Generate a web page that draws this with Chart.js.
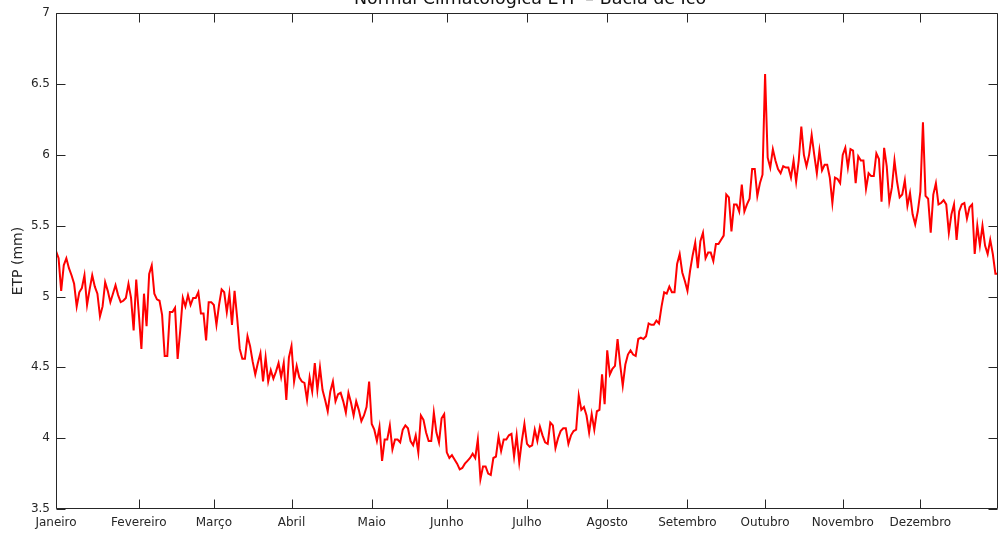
<!DOCTYPE html>
<html>
<head>
<meta charset="utf-8">
<title>Normal Climatológica ETP - Bacia de Icó</title>
<script src="https://cdn.jsdelivr.net/npm/chart.js@4.4.1/dist/chart.umd.min.js"></script>
<style>
    html, body { margin: 0; padding: 0; background: #ffffff; }
    canvas { display: block; }
</style>
</head>
<body>
<canvas id="etpChart" width="999" height="533"></canvas>
<script>
// Chart data
const chartTitle = 'Normal Climatológica ETP – Bacia de Icó';
const yAxisTitle = 'ETP (mm)';
const monthNames = ['Janeiro', 'Fevereiro', 'Março', 'Abril', 'Maio', 'Junho',
                    'Julho', 'Agosto', 'Setembro', 'Outubro', 'Novembro', 'Dezembro'];
const monthTickDays = [1, 33, 62, 92, 123, 152, 183, 214, 245, 275, 305, 335];
const yTickValues = [3.5, 4, 4.5, 5, 5.5, 6, 6.5, 7];

// daily ETP normal (mm), day 1 .. 365
const etpDaily = [
    5.32, 5.27, 5.04, 5.22, 5.27, 5.20, 5.15, 5.09, 4.93, 5.03,
    5.06, 5.15, 4.94, 5.05, 5.15, 5.07, 5.02, 4.86, 4.93, 5.10,
    5.04, 4.96, 5.02, 5.08, 5.01, 4.96, 4.97, 4.99, 5.09, 4.99,
    4.76, 5.12, 4.88, 4.63, 5.02, 4.79, 5.16, 5.22, 5.02, 4.98,
    4.97, 4.87, 4.58, 4.58, 4.89, 4.89, 4.92, 4.56, 4.76, 4.99,
    4.93, 5.01, 4.94, 4.99, 4.99, 5.03, 4.88, 4.88, 4.69, 4.96,
    4.96, 4.94, 4.80, 4.94, 5.05, 5.03, 4.89, 5.02, 4.80, 5.04,
    4.85, 4.63, 4.56, 4.56, 4.72, 4.65, 4.54, 4.45, 4.53, 4.60,
    4.40, 4.57, 4.40, 4.48, 4.42, 4.47, 4.53, 4.43, 4.53, 4.27,
    4.57, 4.65, 4.40, 4.51, 4.43, 4.40, 4.39, 4.27, 4.43, 4.33,
    4.53, 4.34, 4.50, 4.34, 4.27, 4.19, 4.33, 4.40, 4.26, 4.31,
    4.32, 4.26, 4.18, 4.32, 4.25, 4.16, 4.26, 4.20, 4.12, 4.16,
    4.22, 4.40, 4.10, 4.06, 3.98, 4.08, 3.84, 3.99, 3.99, 4.09,
    3.92, 3.99, 3.99, 3.97, 4.06, 4.09, 4.07, 3.98, 3.95, 4.02,
    3.90, 4.16, 4.13, 4.04, 3.98, 3.98, 4.18, 4.04, 3.97, 4.14,
    4.17, 3.90, 3.86, 3.88, 3.85, 3.82, 3.78, 3.79, 3.82, 3.84,
    3.86, 3.89, 3.86, 3.99, 3.71, 3.80, 3.80, 3.75, 3.74, 3.86,
    3.87, 4.01, 3.91, 3.99, 3.99, 4.02, 4.03, 3.87, 4.02, 3.83,
    3.98, 4.10, 3.96, 3.94, 3.95, 4.06, 3.98, 4.08, 4.02, 3.97,
    3.96, 4.11, 4.09, 3.93, 4.00, 4.05, 4.07, 4.07, 3.96, 4.02,
    4.05, 4.06, 4.30, 4.20, 4.22, 4.16, 4.04, 4.17, 4.06, 4.19,
    4.20, 4.45, 4.24, 4.62, 4.45, 4.49, 4.51, 4.70, 4.52, 4.37,
    4.52, 4.59, 4.62, 4.59, 4.58, 4.70, 4.71, 4.70, 4.72, 4.81,
    4.80, 4.80, 4.83, 4.81, 4.93, 5.03, 5.02, 5.07, 5.03, 5.03,
    5.23, 5.30, 5.17, 5.11, 5.04, 5.18, 5.29, 5.38, 5.20, 5.39,
    5.45, 5.27, 5.31, 5.31, 5.25, 5.37, 5.37, 5.40, 5.43, 5.72,
    5.70, 5.46, 5.65, 5.65, 5.60, 5.79, 5.60, 5.65, 5.69, 5.90,
    5.90, 5.71, 5.80, 5.86, 6.57, 5.98, 5.91, 6.04, 5.96, 5.90,
    5.87, 5.92, 5.91, 5.91, 5.84, 5.96, 5.81, 5.96, 6.20, 6.00,
    5.92, 6.00, 6.14, 6.00, 5.87, 6.03, 5.89, 5.93, 5.93, 5.84,
    5.66, 5.84, 5.83, 5.80, 6.00, 6.05, 5.91, 6.04, 6.03, 5.80,
    5.99, 5.96, 5.96, 5.76, 5.87, 5.85, 5.85, 6.01, 5.97, 5.67,
    6.05, 5.92, 5.67, 5.77, 5.96, 5.81, 5.70, 5.72, 5.82, 5.64,
    5.73, 5.58, 5.51, 5.60, 5.74, 6.23, 5.71, 5.69, 5.45, 5.72,
    5.80, 5.65, 5.66, 5.68, 5.65, 5.45, 5.58, 5.65, 5.40, 5.60,
    5.65, 5.66, 5.55, 5.63, 5.65, 5.30, 5.50, 5.36, 5.50, 5.36,
    5.30, 5.40, 5.30, 5.16, 5.16
];

const axisColor = '#262626';
const tickLen = 9;

// MATLAB style box with inward ticks on all four sides, plus the clipped title
const boxPlugin = {
    id: 'matlabBox',
    afterDraw(chart) {
        const ctx = chart.ctx;
        const area = chart.chartArea;
        const xScale = chart.scales.x;
        const yScale = chart.scales.y;
        const left = Math.round(area.left) + 0.5;
        const right = Math.round(area.right) - 0.5;
        const top = Math.round(area.top) + 0.5;
        const bottom = Math.round(area.bottom) - 0.5;

        ctx.save();
        ctx.strokeStyle = axisColor;
        ctx.lineWidth = 1;
        ctx.beginPath();
        ctx.rect(left, top, right - left, bottom - top);

        xScale.ticks.forEach(t => {
            const x = Math.round(xScale.getPixelForValue(t.value)) + 0.5;
            ctx.moveTo(x, bottom);
            ctx.lineTo(x, bottom - tickLen);
            ctx.moveTo(x, top);
            ctx.lineTo(x, top + tickLen);
        });
        yScale.ticks.forEach(t => {
            const y = Math.round(yScale.getPixelForValue(t.value)) + 0.5;
            ctx.moveTo(left, y);
            ctx.lineTo(left + tickLen, y);
            ctx.moveTo(right, y);
            ctx.lineTo(right - tickLen, y);
        });
        ctx.stroke();

        // title sits mostly above the canvas, only its lower part shows
        ctx.fillStyle = '#111111';
        ctx.font = '17.5px "DejaVu Sans"';
        ctx.textAlign = 'center';
        ctx.textBaseline = 'alphabetic';
        ctx.fillText(chartTitle, (area.left + area.right) / 2 + 3, 3.5);
        ctx.restore();
    }
};

document.addEventListener('DOMContentLoaded', function() {
    const ctx = document.getElementById('etpChart').getContext('2d');
    const points = etpDaily.map((v, i) => ({ x: i + 1, y: v }));

    new Chart(ctx, {
        type: 'line',
        data: {
            datasets: [{
                label: 'ETP',
                data: points,
                borderColor: '#ff0000',
                borderWidth: 2,
                pointRadius: 0,
                tension: 0,
                fill: false
            }]
        },
        options: {
            responsive: false,
            animation: false,
            devicePixelRatio: 1,
            layout: { padding: { left: 0, right: 1, top: 12, bottom: 0 } },
            plugins: {
                legend: { display: false },
                tooltip: { enabled: false },
                title: { display: false }
            },
            scales: {
                x: {
                    type: 'linear',
                    min: 1,
                    max: 365,
                    grid: { display: false, drawTicks: false },
                    border: { display: false },
                    afterBuildTicks: function(scale) {
                        scale.ticks = monthTickDays.map(d => ({ value: d }));
                    },
                    afterFit: function(scale) {
                        scale.height = 24;
                    },
                    ticks: {
                        autoSkip: false,
                        maxRotation: 0,
                        padding: 7,
                        color: axisColor,
                        font: { family: 'DejaVu Sans', size: 12 },
                        callback: function(value) {
                            const i = monthTickDays.indexOf(value);
                            return i >= 0 ? monthNames[i] : '';
                        }
                    }
                },
                y: {
                    min: 3.5,
                    max: 7,
                    grid: { display: false, drawTicks: false },
                    border: { display: false },
                    afterBuildTicks: function(scale) {
                        scale.ticks = yTickValues.map(v => ({ value: v }));
                    },
                    afterFit: function(scale) {
                        scale.width = 56;
                    },
                    ticks: {
                        padding: 6,
                        color: axisColor,
                        font: { family: 'DejaVu Sans', size: 12 },
                        callback: function(value) {
                            return String(value);
                        }
                    },
                    title: {
                        display: true,
                        text: yAxisTitle,
                        color: axisColor,
                        font: { family: 'DejaVu Sans', size: 14 },
                        padding: { top: 10, bottom: 0 }
                    }
                }
            }
        },
        plugins: [boxPlugin]
    });
});
</script>
</body>
</html>
